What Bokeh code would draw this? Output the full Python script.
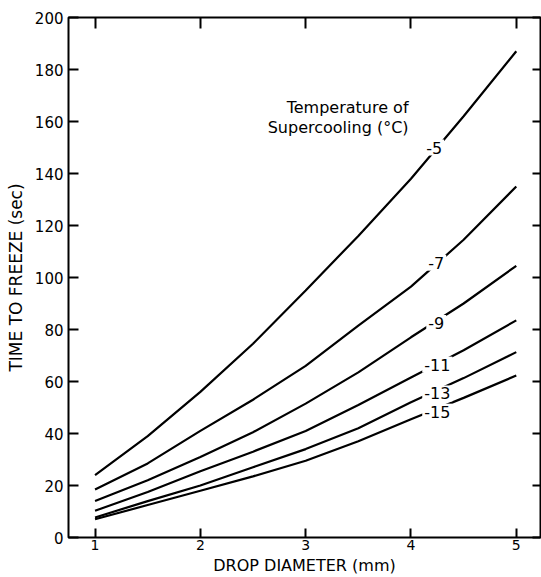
from bokeh.plotting import figure
from bokeh.models import LinearAxis, FixedTicker, Range1d, Label
from bokeh.embed import file_html
from bokeh.resources import INLINE

# ---- data ----
diameter_mm = [1, 1.5, 2, 2.5, 3, 3.5, 4, 4.5, 5]
t_m5 = [24, 39, 56, 74.5, 95, 116, 138, 162, 187]
t_m7 = [18.5, 28.5, 41, 53, 66, 81.5, 96.5, 114.5, 135]
t_m9 = [14, 22, 31, 40.5, 51.5, 63.5, 77, 90, 104.5]
t_m11 = [10.3, 17.5, 25.5, 33, 41, 51, 61.5, 72, 83.5]
t_m13 = [7.7, 14, 20, 27, 34, 42, 52, 61.3, 71.3]
t_m15 = [7, 12.5, 18, 23.5, 29.5, 37, 45.5, 53.7, 62.3]
series = [t_m5, t_m7, t_m9, t_m11, t_m13, t_m15]
curve_labels = ["-5", "-7", "-9", "-11", "-13", "-15"]
x_ticks = [1, 2, 3, 4, 5]
y_ticks = [0, 20, 40, 60, 80, 100, 120, 140, 160, 180, 200]
x_title = "DROP DIAMETER (mm)"
y_title = "TIME TO FREEZE (sec)"
note_lines = ["Temperature of", "Supercooling (°C)"]

# ---- layout constants (annotation placement) ----
label_x = [4.22, 4.24, 4.24, 4.25, 4.25, 4.25]
label_y = [150, 105.7, 82.5, 66.5, 55.4, 48.4]
note_x = 3.977
note_y = [165.5, 157.8]

FONT = "DejaVu Sans"

p = figure(width=541, height=577,
           x_range=Range1d(0.748, 5.23), y_range=Range1d(0, 200),
           output_backend="svg", toolbar_location=None,
           min_border_left=68, min_border_right=1,
           min_border_top=17, min_border_bottom=40)
p.grid.visible = False
p.outline_line_color = "black"
p.outline_line_width = 2
p.background_fill_color = "white"
p.border_fill_color = "white"


def style_axis(ax, ticks, show_labels, tick_len=10):
    ax.ticker = FixedTicker(ticks=ticks)
    ax.major_tick_in = tick_len
    ax.major_tick_out = 0
    ax.minor_tick_line_color = None
    ax.major_tick_line_width = 2
    ax.major_tick_line_color = "black"
    ax.axis_line_color = None
    if show_labels:
        ax.major_label_text_font = FONT
        ax.major_label_text_color = "black"
        ax.axis_label_text_font = FONT
        ax.axis_label_text_font_style = "normal"
        ax.axis_label_text_color = "black"
    else:
        ax.major_label_text_font_size = "1px"
        ax.major_label_text_color = None
        ax.major_label_standoff = 0


xa = p.xaxis[0]
style_axis(xa, x_ticks, True, 9)
xa.axis_label = x_title
xa.major_label_text_font_size = "14px"
xa.major_label_standoff = 2
xa.axis_label_text_font_size = "16px"
xa.axis_label_standoff = 3

ya = p.yaxis[0]
style_axis(ya, y_ticks, True, 10)
ya.axis_label = y_title
ya.major_label_text_font_size = "15px"
ya.major_label_standoff = 5
ya.axis_label_text_font_size = "17px"
ya.axis_label_standoff = 6

top = LinearAxis()
style_axis(top, x_ticks, False, 11)
p.add_layout(top, "above")
right = LinearAxis()
style_axis(right, y_ticks, False, 8)
p.add_layout(right, "right")

for ys in series:
    p.line(diameter_mm, ys, line_color="black", line_width=2.2)

for txt, lx, ly in zip(curve_labels, label_x, label_y):
    p.add_layout(Label(x=lx, y=ly, text=txt, text_font=FONT,
                       text_font_size="16px", text_color="black",
                       text_align="center", text_baseline="middle",
                       background_fill_color="white", padding=2))

for txt, ly in zip(note_lines, note_y):
    p.add_layout(Label(x=note_x, y=ly, text=txt, text_font=FONT,
                       text_font_size="16px", text_color="black",
                       text_align="right", text_baseline="alphabetic"))

open("out.html", "w").write(file_html(p, INLINE))
